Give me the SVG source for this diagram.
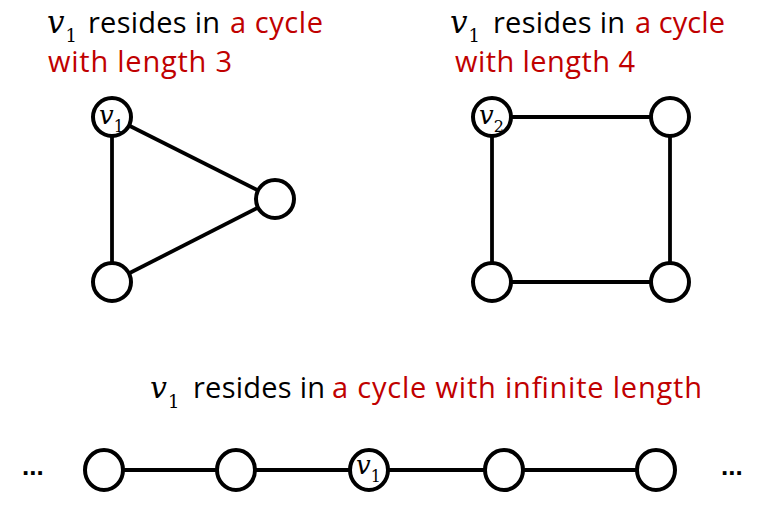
<svg xmlns="http://www.w3.org/2000/svg" width="779" height="516" viewBox="0 0 779 516">
<style>
.node{fill:#fff;stroke:#000;stroke-width:4}
.edge{stroke:#000;stroke-width:3.8;fill:none}
.t{font-family:"Open Sans","Liberation Sans",Arial,sans-serif;font-size:29px;fill:#000}
.r{fill:#C00000}
.m{font-family:"DejaVu Serif","Liberation Serif",serif;fill:#000}
.mi{font-style:italic}
.dots{font-family:"Liberation Sans",Arial,sans-serif;font-size:26px;font-weight:bold;fill:#000}
</style>
<rect width="779" height="516" fill="#fff"/>
<g id="captions">
  <g id="caption-1">
    <text class="m" x="47" y="33" font-size="31"><tspan class="mi">v</tspan><tspan font-size="18" dx="1" dy="9">1</tspan></text>
    <text class="t" x="88" y="33" textLength="132" lengthAdjust="spacing">resides in</text>
    <text class="t r" x="230" y="33" textLength="93" lengthAdjust="spacing">a cycle</text>
    <text class="t r" x="48" y="72" textLength="184" lengthAdjust="spacing">with length 3</text>
  </g>
  <g id="caption-2">
    <text class="m" x="450" y="33" font-size="31"><tspan class="mi">v</tspan><tspan font-size="18" dx="1" dy="9">1</tspan></text>
    <text class="t" x="493" y="33" textLength="132" lengthAdjust="spacing">resides in</text>
    <text class="t r" x="635" y="33" textLength="90" lengthAdjust="spacing">a cycle</text>
    <text class="t r" x="455" y="72" textLength="180" lengthAdjust="spacing">with length 4</text>
  </g>
  <g id="caption-3">
    <text class="m" x="150" y="398" font-size="30"><tspan class="mi">v</tspan><tspan font-size="18" dx="1" dy="10">1</tspan></text>
    <text class="t" x="193" y="398" textLength="132" lengthAdjust="spacing">resides in</text>
    <text class="t r" x="332" y="398" textLength="370" lengthAdjust="spacing">a cycle with infinite length</text>
  </g>
</g>
<g id="connectors">
  <line class="edge" x1="112" y1="117" x2="112" y2="282"/>
  <line class="edge" x1="112" y1="117" x2="275" y2="199"/>
  <line class="edge" x1="112" y1="282" x2="275" y2="199"/>
  <line class="edge" x1="492" y1="117" x2="670" y2="117"/>
  <line class="edge" x1="492" y1="117" x2="492" y2="282"/>
  <line class="edge" x1="670" y1="117" x2="670" y2="282"/>
  <line class="edge" x1="492" y1="282" x2="670" y2="282"/>
  <line class="edge" x1="104" y1="470" x2="656" y2="470"/>
</g>
<g id="tri-v1"><circle class="node" cx="112" cy="117" r="19"/><text class="m" x="99" y="124" font-size="26"><tspan class="mi">v</tspan><tspan font-size="16" dx="0" dy="8">1</tspan></text></g>
<g id="tri-right"><circle class="node" cx="275" cy="199" r="19"/></g>
<g id="tri-bottom"><circle class="node" cx="112" cy="282" r="19"/></g>
<g id="sq-v2"><circle class="node" cx="492" cy="117" r="19"/><text class="m" x="479" y="124" font-size="26"><tspan class="mi">v</tspan><tspan font-size="16" dx="0" dy="8">2</tspan></text></g>
<g id="sq-tr"><circle class="node" cx="670" cy="117" r="19"/></g>
<g id="sq-bl"><circle class="node" cx="492" cy="282" r="19"/></g>
<g id="sq-br"><circle class="node" cx="670" cy="282" r="19"/></g>
<g id="line-dots-left"><text class="dots" x="22" y="475">...</text></g>
<g id="line-n1"><ellipse class="node" cx="104" cy="470" rx="19" ry="20"/></g>
<g id="line-n2"><ellipse class="node" cx="236" cy="470" rx="19" ry="20"/></g>
<g id="line-v1"><ellipse class="node" cx="369" cy="470" rx="19" ry="20"/><text class="m" x="356" y="474" font-size="26"><tspan class="mi">v</tspan><tspan font-size="16" dx="0" dy="8">1</tspan></text></g>
<g id="line-n4"><ellipse class="node" cx="504" cy="470" rx="19" ry="20"/></g>
<g id="line-n5"><ellipse class="node" cx="656" cy="470" rx="19" ry="20"/></g>
<g id="line-dots-right"><text class="dots" x="721" y="475">...</text></g>
</svg>
